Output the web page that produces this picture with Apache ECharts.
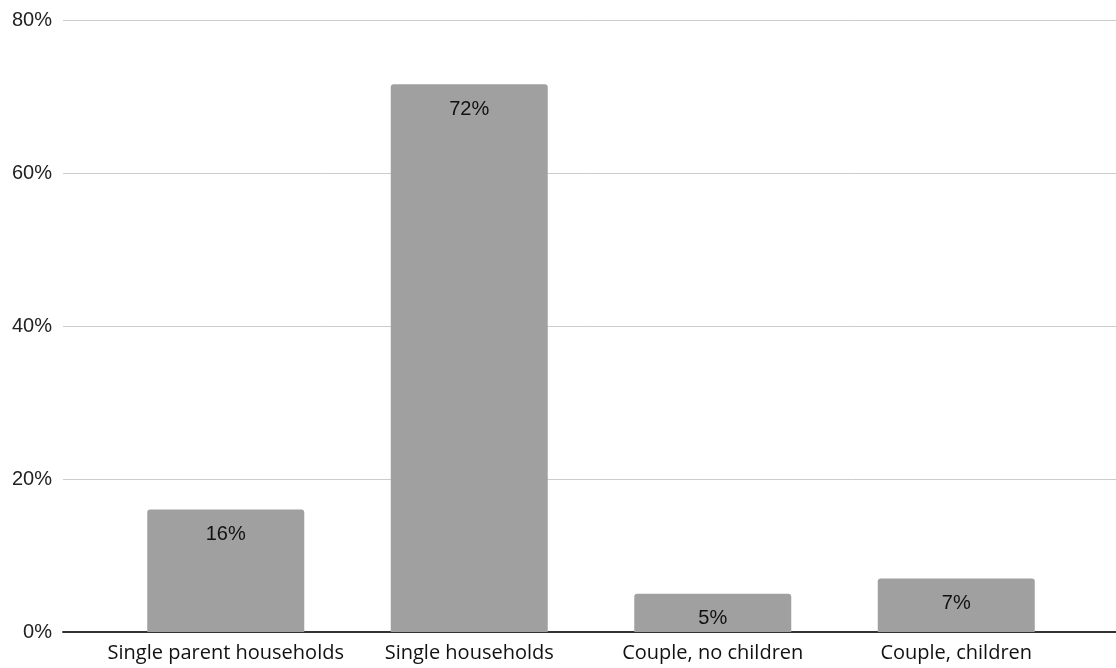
<!DOCTYPE html>
<html>
<head>
<meta charset="utf-8">
<script src="https://cdn.jsdelivr.net/npm/echarts@6/dist/echarts.min.js"></script>
<style>
  html, body { margin: 0; padding: 0; background: #fff; }
  #chart { width: 1116px; height: 668px; }
</style>
</head>
<body>
<div id="chart"></div>
<script>
const categories = ['Single parent households', 'Single households', 'Couple, no children', 'Couple, children'];
const shares = [16, 71.6, 5, 7];
const yTicks = [0, 20, 40, 60, 80];

const chart = echarts.init(document.getElementById('chart'));

chart.setOption({
  animation: false,
  grid: [
    // wide grid: y axis labels, gridlines and base line
    { left: 63, right: 0, top: 20, bottom: 36 },
    // narrower grid: the bars themselves
    { left: 104, right: 38, top: 20, bottom: 36 },
  ],
  xAxis: [
    {
      gridIndex: 0,
      type: 'category',
      data: [''],
      axisLine: { lineStyle: { color: '#333', width: 2 } },
      axisTick: { show: false },
      axisLabel: { show: false },
    },
    {
      gridIndex: 1,
      type: 'category',
      data: categories,
      axisLine: { show: false },
      axisTick: { show: false },
      axisLabel: {
        interval: 0,
        margin: 11,
        color: '#111',
        fontSize: 20,
        fontFamily: 'Open Sans, sans-serif',
      },
    },
  ],
  yAxis: [
    {
      gridIndex: 0,
      type: 'value',
      min: yTicks[0],
      max: yTicks[yTicks.length - 1],
      interval: 20,
      axisLine: { show: false },
      axisTick: { show: false },
      axisLabel: {
        margin: 11,
        color: '#222',
        fontSize: 20,
        fontFamily: 'Liberation Sans, sans-serif',
        formatter: v => v + '%',
      },
      splitLine: { lineStyle: { color: '#cccccc', width: 1 } },
    },
    {
      gridIndex: 1,
      type: 'value',
      min: yTicks[0],
      max: yTicks[yTicks.length - 1],
      interval: 20,
      show: false,
      splitLine: { show: false },
    },
  ],
  series: [
    {
      type: 'bar',
      xAxisIndex: 1,
      yAxisIndex: 1,
      data: shares,
      barWidth: 157,
      itemStyle: { color: '#a0a0a0', borderRadius: [3, 3, 0, 0] },
      label: {
        show: true,
        position: 'insideTop',
        distance: 15,
        color: '#111',
        fontSize: 20,
        fontFamily: 'Liberation Sans, sans-serif',
        formatter: p => Math.round(p.value) + '%',
      },
    },
  ],
});
</script>
</body>
</html>
